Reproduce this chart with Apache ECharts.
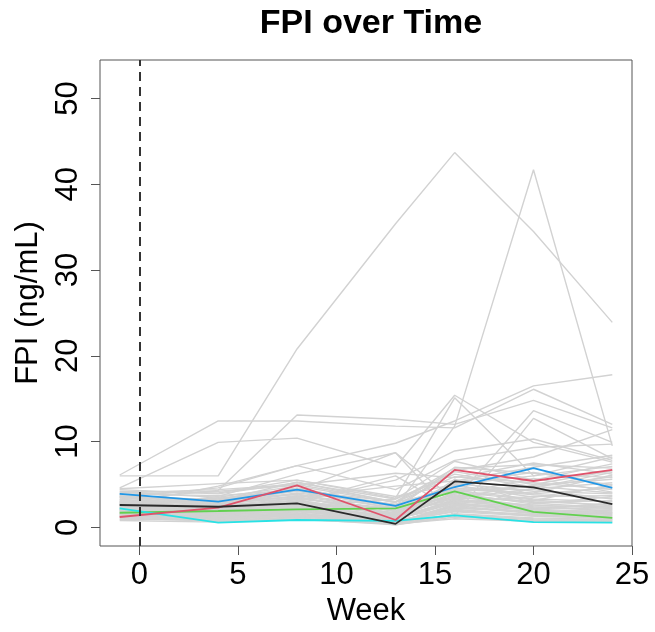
<!DOCTYPE html>
<html>
<head>
<meta charset="utf-8">
<script src="https://cdn.jsdelivr.net/npm/echarts@6/dist/echarts.min.js"></script>
<style>
html,body{margin:0;padding:0;background:#fff;}
#chart{width:655px;height:632px;}
</style>
</head>
<body>
<div id="chart"></div>
<script>
// ---- data ----
const weeks = [-1, 4, 8, 13, 16, 20, 24];
const xTicks = [0, 5, 10, 15, 20, 25];
const yTicks = [0, 10, 20, 30, 40, 50];

// individual subjects (grey)
const greySubjects = [
  [6.0, 6.0, 20.8, 35.4, 43.7, 34.5, 23.9],
  [1.8, 2.2, 2.6, 2.3, 11.8, 41.7, 9.5],
  [2.6, 4.8, 7.2, 9.8, 12.4, 16.5, 17.8],
  [6.1, 12.4, 12.4, 11.8, 11.6, 16.1, 12.0],
  [4.6, 9.9, 10.4, 7.0, 15.4, 9.9, 7.6],
  [3.2, 4.3, 13.1, 12.6, 12.0, 14.8, 11.6],
  [2.3, 3.6, 6.2, 8.7, 3.2, 13.6, 9.9],
  [2.8, 3.4, 4.3, 8.7, 1.3, 12.7, 8.0],
  [3.5, 4.6, 7.2, 4.4, 7.8, 9.3, 9.7],
  [4.5, 5.1, 5.5, 3.4, 15.1, 6.0, 8.2],
  [2.0, 2.6, 3.0, 5.5, 8.9, 10.3, 7.8],
  [1.5, 2.0, 2.4, 3.3, 7.7, 5.5, 7.4],
  [3.8, 4.2, 4.9, 6.3, 5.8, 7.5, 6.2],
  [2.9, 3.1, 5.3, 2.9, 6.6, 8.2, 11.4],
  [3.9, 3.7, 4.4, 2.1, 7.0, 6.3, 5.8],
  [4.0, 4.4, 5.0, 3.0, 6.9, 7.3, 6.9],
  [3.6, 3.0, 3.5, 4.8, 5.4, 7.0, 8.4],
  [2.1, 2.5, 3.0, 6.0, 2.0, 4.6, 6.4],
  [2.1, 1.8, 2.5, 1.2, 3.1, 2.6, 2.2],
  [1.4, 1.1, 1.6, 0.7, 2.2, 1.9, 1.5],
  [3.2, 2.7, 3.9, 1.8, 4.6, 3.8, 3.4],
  [2.6, 2.3, 3.0, 1.5, 5.1, 4.2, 3.9],
  [1.0, 0.8, 1.2, 0.5, 1.6, 1.1, 0.9],
  [3.6, 3.1, 4.2, 2.4, 3.5, 4.9, 5.6],
  [1.8, 1.5, 2.1, 0.9, 2.8, 2.2, 2.8],
  [2.4, 2.0, 2.8, 1.1, 4.1, 3.2, 2.5],
  [1.2, 1.4, 1.9, 0.6, 1.9, 1.5, 1.2],
  [4.1, 3.5, 4.8, 2.9, 5.9, 5.2, 4.4],
  [2.9, 2.5, 3.4, 2.0, 3.8, 2.9, 3.1],
  [1.6, 1.3, 1.7, 0.4, 2.5, 1.7, 2.0],
  [2.2, 2.8, 3.6, 1.3, 4.9, 3.5, 4.8],
  [0.9, 1.0, 1.4, 0.3, 1.4, 0.9, 0.8],
  [3.3, 2.1, 2.9, 1.6, 3.4, 4.5, 5.2],
  [1.9, 1.6, 2.3, 1.0, 5.6, 2.8, 2.3],
  [2.7, 3.3, 4.5, 2.6, 4.4, 4.0, 6.1],
  [1.3, 0.9, 1.3, 0.8, 2.0, 1.3, 1.1],
  [3.0, 2.4, 3.2, 1.4, 3.9, 5.7, 4.1],
  [2.0, 1.7, 2.0, 0.5, 2.6, 2.0, 1.7],
  [4.4, 3.9, 5.2, 3.3, 6.2, 4.7, 5.9],
  [1.7, 1.2, 1.8, 0.9, 3.3, 2.4, 1.9],
  [2.5, 2.9, 3.3, 2.2, 2.9, 3.6, 3.7],
  [1.1, 0.7, 1.0, 0.3, 1.2, 0.8, 0.7],
  [3.4, 2.6, 3.7, 1.9, 5.3, 6.4, 4.9],
  [2.3, 1.9, 2.6, 1.3, 3.7, 3.0, 2.6],
  [1.5, 1.7, 2.2, 0.6, 2.4, 1.6, 1.4],
  [2.8, 2.2, 3.1, 1.7, 4.3, 3.3, 3.0],
  [0.8, 0.6, 0.9, 0.4, 1.0, 0.7, 0.6],
  [3.7, 3.2, 4.6, 2.5, 6.5, 5.0, 6.6],
  [2.0, 2.3, 2.7, 1.0, 3.0, 2.3, 2.1],
  [1.3, 1.1, 1.5, 0.7, 1.8, 1.3, 1.0],
  [2.6, 2.0, 3.5, 1.6, 4.0, 2.7, 3.6],
  [1.9, 1.4, 1.9, 1.1, 2.3, 1.8, 1.6],
  [3.1, 2.8, 4.0, 2.7, 4.8, 3.9, 4.6],
  [1.6, 1.0, 1.4, 0.5, 2.7, 2.1, 1.8],
  [2.4, 1.9, 2.4, 1.2, 3.6, 2.5, 2.4],
  [4.2, 4.0, 5.5, 3.6, 5.0, 6.0, 7.1],
  [1.2, 0.8, 1.1, 0.4, 1.5, 1.0, 0.9],
  [2.2, 1.6, 2.2, 0.8, 3.2, 2.1, 2.7],
  [3.0, 3.4, 3.8, 2.3, 4.5, 4.4, 3.3],
  [1.7, 1.5, 2.0, 0.6, 2.1, 1.4, 1.3],
  [2.7, 2.4, 2.9, 1.4, 3.4, 3.1, 5.0],
  [1.4, 1.2, 1.6, 0.9, 2.9, 1.6, 1.7],
  [3.5, 2.9, 4.3, 3.0, 4.2, 4.8, 4.0]
];

// highlighted summary lines
const blackLine = [2.6, 2.4, 2.8, 0.4, 5.35, 4.65, 2.7];
const redLine   = [1.2, 2.3, 4.9, 0.85, 6.7, 5.4, 6.7];
const greenLine = [1.7, 1.9, 2.1, 2.2, 4.2, 1.8, 1.1];
const blueLine  = [3.9, 3.0, 4.4, 2.5, 4.7, 6.9, 4.6];
const cyanLine  = [2.2, 0.55, 0.85, 0.75, 1.4, 0.6, 0.55];

// ---- chart ----
const FONT = '"Liberation Sans", Arial, Helvetica, sans-serif';
const pair = arr => weeks.map((w, i) => [w, arr[i]]);

const series = [];
greySubjects.forEach((s, idx) => {
  const ser = {
    type: 'line', data: pair(s), symbol: 'none', silent: true,
    lineStyle: { color: '#d2d2d2', width: 1.4 }, z: 2
  };
  if (idx === 0) {
    ser.markLine = {
      silent: true, symbol: ['none', 'none'], animation: false,
      label: { show: false },
      lineStyle: { color: '#333333', width: 2, type: [9, 6] },
      data: [{ xAxis: 0 }]
    };
  }
  series.push(ser);
});
[
  [greenLine, '#61D04F'],
  [cyanLine, '#28E2E5'],
  [blueLine, '#2297E6'],
  [redLine, '#DF536B'],
  [blackLine, '#2b2b2b']
].forEach(([arr, col]) => {
  series.push({
    type: 'line', data: pair(arr), symbol: 'none', silent: true,
    lineStyle: { color: col, width: 1.8 }, z: 3
  });
});

const chart = echarts.init(document.getElementById('chart'), null, { renderer: 'canvas' });
chart.setOption({
  animation: false,
  backgroundColor: '#ffffff',
  title: {
    text: 'FPI over Time', left: 366, top: 2, textAlign: 'center',
    textStyle: { fontFamily: FONT, fontWeight: 'bold', fontSize: 34, color: '#000' }
  },
  grid: {
    left: 100, top: 60, width: 532, height: 490,
    show: true, borderColor: '#555555', borderWidth: 1, backgroundColor: 'transparent'
  },
  xAxis: {
    type: 'value', min: -2, max: 25,
    name: 'Week', nameLocation: 'middle', nameGap: 50,
    nameTextStyle: { fontFamily: FONT, fontSize: 31, color: '#000' },
    axisLine: { show: false, onZero: false },
    axisTick: { show: true, length: 9, lineStyle: { color: '#555' }, customValues: xTicks },
    axisLabel: { show: true, margin: 14, fontFamily: FONT, fontSize: 31, color: '#000', customValues: xTicks },
    splitLine: { show: false }
  },
  yAxis: {
    type: 'value', min: -2.18, max: 54.5,
    name: 'FPI (ng/mL)', nameLocation: 'middle', nameGap: 56, nameRotate: 90,
    nameTextStyle: { fontFamily: FONT, fontSize: 31, color: '#000' },
    axisLine: { show: false, onZero: false },
    axisTick: { show: true, length: 9, lineStyle: { color: '#555' }, customValues: yTicks },
    axisLabel: { show: true, rotate: 90, margin: 16, fontFamily: FONT, fontSize: 31, color: '#000', customValues: yTicks },
    splitLine: { show: false }
  },
  series: series
});
</script>
</body>
</html>
